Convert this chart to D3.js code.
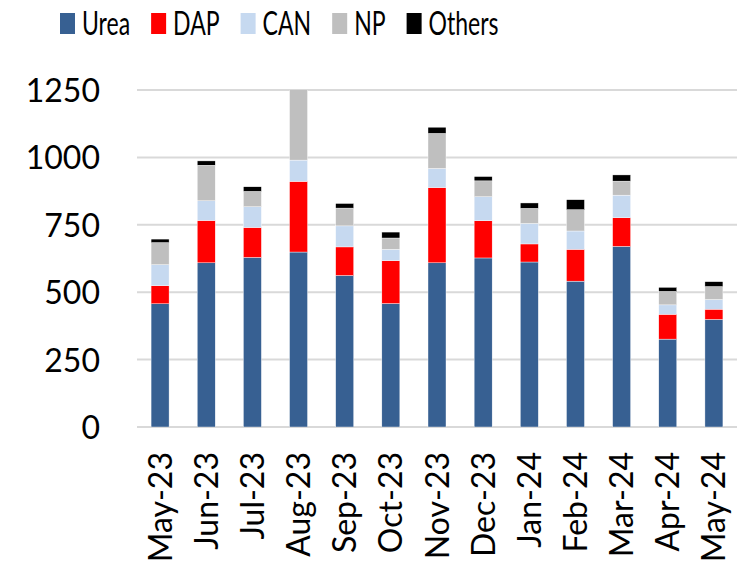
<!DOCTYPE html>
<html>
<head>
<meta charset="utf-8">
<script src="https://cdn.jsdelivr.net/npm/d3@7"></script>
<style>
  body { margin: 0; background: #fff; }
  svg text { font-family: Lato, 'Open Sans', sans-serif; fill: #000; }
</style>
</head>
<body>
<div id="main"></div>
<script>
// chart data
const months = ['May-23', 'Jun-23', 'Jul-23', 'Aug-23', 'Sep-23', 'Oct-23', 'Nov-23',
  'Dec-23', 'Jan-24', 'Feb-24', 'Mar-24', 'Apr-24', 'May-24'];
const seriesNames = ['Urea', 'DAP', 'CAN', 'NP', 'Others'];
const urea = [457, 609, 629, 649, 562, 458, 609, 627, 612, 541, 670, 326, 399];
const dap = [67, 157, 111, 262, 106, 159, 279, 138, 67, 118, 106, 92, 38];
const can = [78, 73, 77, 79, 78, 42, 71, 89, 76, 68, 84, 35, 36];
const np = [82, 132, 57, 262, 66, 42, 130, 59, 56, 79, 52, 50, 48];
const others = [13, 16, 17, 15, 17, 22, 23, 16, 20, 37, 23, 15, 18];
const yTicks = [0, 250, 500, 750, 1000, 1250];
const colors = ['#376092', '#ff0000', '#c6d9f0', '#bfbfbf', '#000000'];

function main() {
  const width = 745;
  const height = 565;
  const margin = { top: 90, right: 8, bottom: 138, left: 137 };

  const svg = d3.select('#main').append('svg')
    .attr('width', width)
    .attr('height', height);

  // rows for the stack layout
  const rows = months.map((m, i) => ({
    month: m, Urea: urea[i], DAP: dap[i], CAN: can[i], NP: np[i], Others: others[i]
  }));
  const stacked = d3.stack().keys(seriesNames)(rows);

  const x = d3.scaleBand()
    .domain(months)
    .range([margin.left, width - margin.right])
    .paddingInner(0.61)
    .paddingOuter(0.305);
  const y = d3.scaleLinear()
    .domain([0, 1250])
    .range([height - margin.bottom, margin.top]);

  // gridlines
  svg.append('g')
    .selectAll('line')
    .data(yTicks)
    .enter()
    .append('line')
    .attr('x1', margin.left)
    .attr('x2', width - margin.right)
    .attr('y1', d => y(d))
    .attr('y2', d => y(d))
    .style('stroke', '#d9d9d9')
    .style('stroke-width', 2);

  // clip so the tall bar is cut at the axis max
  svg.append('clipPath').attr('id', 'plot-clip')
    .append('rect')
    .attr('x', margin.left)
    .attr('y', margin.top)
    .attr('width', width - margin.left - margin.right)
    .attr('height', height - margin.top - margin.bottom);

  const bars = svg.append('g').attr('clip-path', 'url(#plot-clip)');
  bars.selectAll('g')
    .data(stacked)
    .enter()
    .append('g')
    .attr('fill', (d, i) => colors[i])
    .selectAll('rect')
    .data(d => d)
    .enter()
    .append('rect')
    .attr('x', d => x(d.data.month))
    .attr('width', x.bandwidth())
    .attr('y', d => y(d[1]))
    .attr('height', d => y(d[0]) - y(d[1]))
    .style('stroke', '#ffffff')
    .style('stroke-width', 0.4);

  // y axis labels
  const yAxis = svg.append('g')
    .attr('transform', `translate(${margin.left - 37},0)`)
    .call(d3.axisLeft(y).tickValues(yTicks).tickFormat(d3.format('d')).tickSize(0).tickPadding(0));
  yAxis.select('.domain').remove();
  yAxis.selectAll('text')
    .style('font-size', '32px')
    .attr('dy', '0.36em');

  // x axis labels, rotated
  const xAxis = svg.append('g')
    .attr('transform', `translate(0,${height - margin.bottom})`)
    .call(d3.axisBottom(x).tickSize(0).tickPadding(0));
  xAxis.select('.domain').remove();
  xAxis.selectAll('text')
    .style('font-size', '32px')
    .attr('text-anchor', 'end')
    .attr('transform', 'translate(0,25) rotate(-90)')
    .attr('x', 0)
    .attr('y', 0)
    .attr('dx', 0)
    .attr('dy', '0.36em');

  // legend (text condensed like the original)
  const squeeze = 0.72;
  const legend = svg.append('g').attr('transform', 'translate(60,13)');
  let lx = 0;
  seriesNames.forEach((name, i) => {
    const item = legend.append('g').attr('transform', `translate(${lx},0)`);
    item.append('rect')
      .attr('width', 15)
      .attr('height', 21)
      .attr('fill', colors[i]);
    const t = item.append('text')
      .attr('transform', `translate(22,21.5) scale(${squeeze},1)`)
      .style('font-size', '32px')
      .text(name);
    lx += 22 + t.node().getComputedTextLength() * squeeze + 21;
  });
}
document.addEventListener('DOMContentLoaded', main);
</script>
</body>
</html>
